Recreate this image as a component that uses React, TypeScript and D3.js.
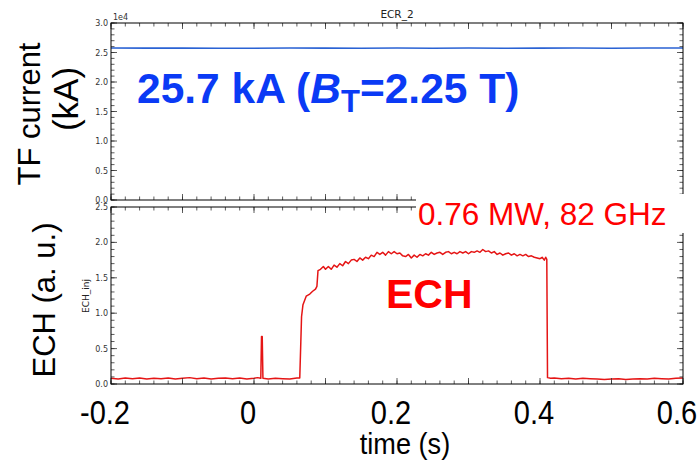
import React from 'react';
import * as d3 from 'd3';

const timeTicks = [-0.2, 0, 0.2, 0.4, 0.6];
const timeTickLabels = ['-0.2', '0', '0.2', '0.4', '0.6'];
const tfTicks = [0, 0.5, 1, 1.5, 2, 2.5, 3];
const tfTickLabels = ['0.0', '0.5', '1.0', '1.5', '2.0', '2.5', '3.0'];
const echTicks = [0, 0.5, 1, 1.5, 2, 2.5];
const echTickLabels = ['0.0', '0.5', '1.0', '1.5', '2.0', '2.5'];

// TF coil current (units of 1e4 A)
const tfTime = [-0.2, -0.15, -0.1, -0.05, 0, 0.05, 0.1, 0.15, 0.2, 0.25, 0.3, 0.35, 0.4, 0.45, 0.5, 0.55, 0.6];
const tfCurrent = [2.576, 2.574, 2.575, 2.571, 2.573, 2.576, 2.574, 2.572, 2.576, 2.573, 2.575, 2.571, 2.574, 2.576, 2.573, 2.575, 2.576];

// ECH injected power (a.u.)
const echTime = [
  -0.2, -0.19, -0.18, -0.17, -0.16, -0.15, -0.14, -0.13, -0.12, -0.11, -0.1, -0.09, -0.08, -0.07, -0.06, -0.05,
  -0.04, -0.03, -0.02, -0.01, 0.0, 0.005, 0.0095, 0.0105, 0.0115, 0.0125, 0.02, 0.03, 0.04, 0.05, 0.06, 0.064,
  0.0655, 0.0665, 0.0685, 0.073, 0.078, 0.082, 0.086, 0.088, 0.0895, 0.093, 0.097, 0.1, 0.104, 0.108, 0.112, 0.116,
  0.12, 0.124, 0.128, 0.132, 0.136, 0.14, 0.144, 0.148, 0.152, 0.156, 0.16, 0.164, 0.168, 0.172, 0.176, 0.18,
  0.184, 0.188, 0.192, 0.196, 0.2, 0.204, 0.208, 0.212, 0.216, 0.22, 0.224, 0.228, 0.232, 0.236, 0.24, 0.244,
  0.248, 0.252, 0.256, 0.26, 0.264, 0.268, 0.272, 0.276, 0.28, 0.284, 0.288, 0.292, 0.296, 0.3, 0.304, 0.308,
  0.312, 0.316, 0.32, 0.324, 0.328, 0.332, 0.336, 0.34, 0.344, 0.348, 0.352, 0.356, 0.36, 0.364, 0.368, 0.372,
  0.376, 0.38, 0.384, 0.388, 0.392, 0.396, 0.4, 0.403, 0.406, 0.408, 0.4095, 0.4105, 0.415, 0.42, 0.43, 0.44,
  0.45, 0.46, 0.47, 0.48, 0.49, 0.5, 0.51, 0.52, 0.53, 0.54, 0.55, 0.56, 0.57, 0.58, 0.59, 0.6,
];
const echValue = [
  0.08, 0.07, 0.085, 0.075, 0.085, 0.07, 0.08, 0.075, 0.085, 0.07, 0.08, 0.09, 0.075, 0.085, 0.07, 0.08,
  0.085, 0.075, 0.085, 0.07, 0.08, 0.09, 0.08, 0.67, 0.67, 0.08, 0.07, 0.08, 0.075, 0.07, 0.085, 0.085,
  0.6, 0.95, 1.12, 1.24, 1.27, 1.31, 1.34, 1.38, 1.6, 1.62, 1.66, 1.62, 1.66, 1.62, 1.68, 1.65,
  1.7, 1.67, 1.73, 1.7, 1.75, 1.76, 1.73, 1.78, 1.75, 1.79, 1.77, 1.82, 1.8, 1.86, 1.83, 1.86,
  1.82, 1.87, 1.84, 1.87, 1.84, 1.85, 1.81, 1.8, 1.83, 1.78, 1.82, 1.79, 1.83, 1.81, 1.84, 1.82,
  1.86, 1.83, 1.85, 1.86, 1.83, 1.86, 1.87, 1.84, 1.86, 1.84, 1.87, 1.85, 1.87, 1.84, 1.87, 1.86,
  1.88, 1.86, 1.9, 1.87, 1.88, 1.85, 1.87, 1.83, 1.85, 1.82, 1.84, 1.85, 1.82, 1.84, 1.81, 1.83,
  1.81, 1.83, 1.8, 1.81, 1.79, 1.78, 1.77, 1.79, 1.75, 1.79, 1.76, 0.09, 0.08, 0.085, 0.075, 0.08,
  0.07, 0.08, 0.075, 0.07, 0.065, 0.07, 0.075, 0.065, 0.07, 0.075, 0.07, 0.08, 0.075, 0.07, 0.08, 0.085,
];

const W = 700;
const H = 460;
const L = 111;
const R = 683;
const topPanel = { top: 23, bottom: 200 };
const botPanel = { top: 207, bottom: 384 };

const x = d3.scaleLinear().domain([-0.2, 0.6]).range([L, R]);
const yTF = d3.scaleLinear().domain([0, 3]).range([topPanel.bottom, topPanel.top]);
const yECH = d3.scaleLinear().domain([0, 2.5]).range([botPanel.bottom, botPanel.top]);

const xMajor = d3.range(-0.2, 0.6001, 0.1);
const xMinor = d3.range(-0.2, 0.6001, 0.02);

const SANS = "'Liberation Sans', Arial, Helvetica, sans-serif";
const MPL = "'DejaVu Sans', sans-serif";
const TICK = '#333';

function Panel({ y, top, bottom, yMajor, yLabels, minorStep, clipId, children }: any) {
  const yMinor = d3.range(y.domain()[0], y.domain()[1] + 1e-6, minorStep);
  const maj = 6;
  const mino = 3.5;
  return (
    <g>
      <defs>
        <clipPath id={clipId}>
          <rect x={L} y={top} width={R - L} height={bottom - top} />
        </clipPath>
      </defs>
      <g clipPath={`url(#${clipId})`}>{children}</g>
      {xMinor.map((t, i) => (
        <g key={'xm' + i} stroke={TICK} strokeWidth={0.8}>
          <line x1={x(t)} x2={x(t)} y1={top} y2={top + mino} />
          <line x1={x(t)} x2={x(t)} y1={bottom} y2={bottom - mino} />
        </g>
      ))}
      {xMajor.map((t, i) => (
        <g key={'xM' + i} stroke={TICK} strokeWidth={0.8}>
          <line x1={x(t)} x2={x(t)} y1={top} y2={top + maj} />
          <line x1={x(t)} x2={x(t)} y1={bottom} y2={bottom - maj} />
        </g>
      ))}
      {yMinor.map((v: number, i: number) => (
        <g key={'ym' + i} stroke={TICK} strokeWidth={0.8}>
          <line x1={L} x2={L + mino} y1={y(v)} y2={y(v)} />
          <line x1={R} x2={R - mino} y1={y(v)} y2={y(v)} />
        </g>
      ))}
      {yMajor.map((v: number, i: number) => (
        <g key={'yM' + i}>
          <line x1={L} x2={L + maj} y1={y(v)} y2={y(v)} stroke={TICK} strokeWidth={0.8} />
          <line x1={R} x2={R - maj} y1={y(v)} y2={y(v)} stroke={TICK} strokeWidth={0.8} />
          <text x={L - 3} y={y(v) + 3} textAnchor="end" fontFamily={MPL} fontSize={8} fill={TICK}>
            {yLabels[i]}
          </text>
        </g>
      ))}
      <rect x={L} y={top} width={R - L} height={bottom - top} fill="none" stroke="#000" strokeWidth={1} />
    </g>
  );
}

export default function App() {
  const tfLine = d3
    .line<number>()
    .x((_, i) => x(tfTime[i]))
    .y((d) => yTF(d));
  const echLine = d3
    .line<number>()
    .x((_, i) => x(echTime[i]))
    .y((d) => yECH(d));

  return (
    <svg width={W} height={H} style={{ position: 'absolute', left: 0, top: 0, background: '#fff' }}>
      <rect x={0} y={0} width={W} height={H} fill="#fff" />
      <text x={(L + R) / 2} y={18} textAnchor="middle" fontFamily={MPL} fontSize={10.5} fill="#222">
        ECR_2
      </text>
      <text x={L + 2} y={20} fontFamily={MPL} fontSize={8} fill={TICK}>
        1e4
      </text>
      <Panel y={yTF} top={topPanel.top} bottom={topPanel.bottom} yMajor={tfTicks} yLabels={tfTickLabels} minorStep={0.1} clipId="clipTop">
        <path d={tfLine(tfCurrent) || ''} fill="none" stroke="#2a62d4" strokeWidth={1.6} />
      </Panel>
      <Panel y={yECH} top={botPanel.top} bottom={botPanel.bottom} yMajor={echTicks} yLabels={echTickLabels} minorStep={0.1} clipId="clipBot">
        <path d={echLine(echValue) || ''} fill="none" stroke="#e51515" strokeWidth={1.5} strokeLinejoin="round" />
      </Panel>
      <text transform={`translate(89,296) rotate(-90)`} textAnchor="middle" fontFamily={MPL} fontSize={9} fill="#222">
        ECH_inj
      </text>

      {/* overlay annotations */}
      <text transform={`translate(40,114) rotate(-90)`} textAnchor="middle" fontFamily={SANS} fontSize={31} fill="#000">
        TF current
      </text>
      <text transform={`translate(78,99) rotate(-90)`} textAnchor="middle" fontFamily={SANS} fontSize={35} fill="#000">
        (kA)
      </text>
      <text transform={`translate(55,300) rotate(-90)`} textAnchor="middle" fontFamily={SANS} fontSize={31} fill="#000">
        ECH (a. u.)
      </text>

      <text x={137} y={103} fontFamily={SANS} fontWeight="bold" fontSize={42.5} fill="#0a3af5">
        <tspan>25.7 kA (</tspan>
        <tspan fontStyle="italic">B</tspan>
        <tspan fontSize={31} dy={9}>T</tspan>
        <tspan dy={-9}>=2.25 T)</tspan>
      </text>

      <rect x={416} y={194} width={272} height={39} fill="#fff" />
      <text x={418} y={225} fontFamily={SANS} fontSize={31.5} fill="#ff0000">
        0.76 MW, 82 GHz
      </text>
      <text x={386} y={308} fontFamily={SANS} fontWeight="bold" fontSize={41} fill="#ff0000">
        ECH
      </text>

      {timeTicks.map((t, i) => (
        <text
          key={'tl' + i}
          transform={`translate(${x(t) - 6},424) scale(0.88,1)`}
          textAnchor="middle"
          fontFamily={SANS}
          fontSize={33}
          fill="#000"
        >
          {timeTickLabels[i]}
        </text>
      ))}
      <text transform={`translate(405,454) scale(0.92,1)`} textAnchor="middle" fontFamily={SANS} fontSize={29.5} fill="#000">
        time (s)
      </text>
    </svg>
  );
}
